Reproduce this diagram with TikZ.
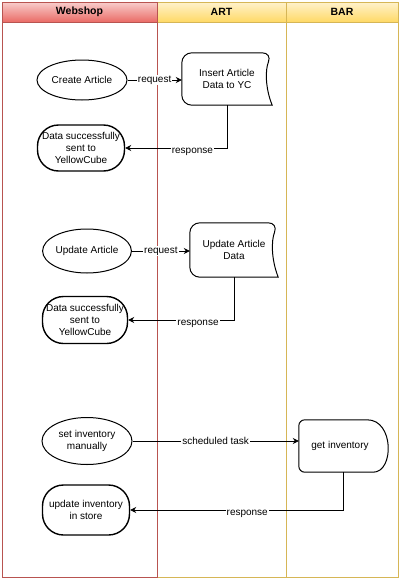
\documentclass[tikz,border=0pt]{standalone}
\usepackage{fontspec}
\setmainfont{Liberation Sans}
\usetikzlibrary{shapes.geometric,arrows.meta,calc}
\definecolor{redb}{HTML}{B85450}
\definecolor{yelb}{HTML}{D6B656}
\definecolor{redt}{HTML}{F8CECC}
\definecolor{redbot}{HTML}{EA6B66}
\definecolor{yelt}{HTML}{FFF2CC}
\definecolor{yelbot}{HTML}{FFD966}
\begin{document}
\begin{tikzpicture}[x=1pt,y=-1pt,
 every node/.style={font=\fontsize{10}{12}\selectfont, align=center},
 ell/.style={ellipse, draw, line width=1pt, inner sep=0pt},
 term/.style={rectangle, draw, line width=1.4pt, rounded corners=21pt, inner sep=0pt},
 box/.style={rectangle, inner sep=0pt},
 shp/.style={draw, line width=1pt},
 conn/.style={-{Stealth[length=6pt,width=6pt]}, line width=0.8pt},
 lbl/.style={fill=white, inner sep=1pt},
 hdr/.style={font=\bfseries\fontsize{10.5}{12}\selectfont}]
\useasboundingbox (0,0) rectangle (400,581);
% lanes
\shade[top color=redt,bottom color=redbot] (2,2) rectangle (157,22);
\shade[top color=yelt,bottom color=yelbot] (157,2) rectangle (286,22);
\shade[top color=yelt,bottom color=yelbot] (286,2) rectangle (398,22);
\draw[yelb, line width=1pt] (157,2) rectangle (286,577) (157,22) -- (286,22);
\draw[yelb, line width=1pt] (286,2) rectangle (398,577) (286,22) -- (398,22);
\draw[redb, line width=1pt] (2,2) rectangle (157,577) (2,22) -- (157,22);
\node[hdr] (h1) at (79.5,12) {Webshop};
\node[hdr] (h2) at (221.5,12) {ART};
\node[hdr] (h3) at (342,12) {BAR};
% group 1
\node[ell, minimum width=90pt, minimum height=40pt] (ca) at (82,80) {Create Article};
\node[term, minimum width=87pt, minimum height=46pt] (ds1) at (81,148) {Data successfully\\sent to\\YellowCube};
\node[box, minimum width=90pt, minimum height=52pt] (ia) at (227,79) {Insert Article\\Data to YC};
\draw[shp] (ia.north east) .. controls ($(ia.north east)+(-7,17)$) and ($(ia.south east)+(-7,-17)$) .. (ia.south east) [rounded corners=10pt] -- (ia.south west) -- (ia.north west) -- cycle;
\draw[conn] (ca.east) -- (ca.east -| ia.west) node[lbl, midway] {request};
\draw[conn] (ia.south) |- (ds1.east) node[lbl, pos=0.67, yshift=-4pt] {response};
% group 2
\node[ell, minimum width=88pt, minimum height=44pt] (ua) at (87,251) {Update Article};
\node[term, minimum width=85pt, minimum height=47pt] (ds2) at (85,320) {Data successfully\\sent to\\YellowCube};
\node[box, minimum width=88pt, minimum height=54pt] (uad) at (234,250) {Update Article\\Data};
\draw[shp] (uad.north east) .. controls ($(uad.north east)+(-7,18)$) and ($(uad.south east)+(-7,-18)$) .. (uad.south east) [rounded corners=10pt] -- (uad.south west) -- (uad.north west) -- cycle;
\draw[conn] (ua.east) -- (ua.east -| uad.west) node[lbl, midway] {request};
\draw[conn] (uad.south) |- (ds2.east) node[lbl, pos=0.67, yshift=-4pt] {response};
% group 3
\node[ell, minimum width=90pt, minimum height=47pt] (si) at (87,441) {set inventory\\manually};
\node[term, minimum width=87pt, minimum height=50pt] (ui) at (86,510) {update inventory\\in store};
\node[box, minimum width=88pt, minimum height=52pt] (gi) at (343,446) {\hspace*{-6pt}get inventory};
\draw[shp] ($(gi.north east)+(-20,0)$) [rounded corners=6pt] -- (gi.north west) -- (gi.south west) -- ($(gi.south east)+(-20,0)$) [sharp corners] .. controls ($(gi.south east)+(7,0)$) and ($(gi.north east)+(7,0)$) .. cycle;
\draw[conn] (si.east) -- (si.east -| gi.west) node[lbl, midway] {scheduled task};
\draw[conn] (gi.south) |- (ui.east) node[lbl, pos=0.725, yshift=-4pt] {response};
\end{tikzpicture}
\end{document}
